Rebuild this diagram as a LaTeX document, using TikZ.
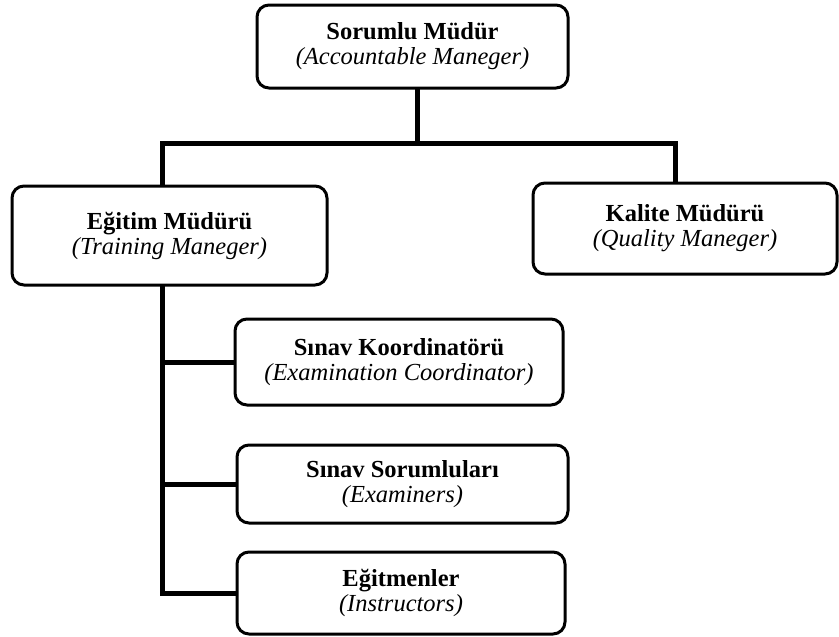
\documentclass[tikz,border=0pt]{standalone}
\usepackage{fontspec}
\setmainfont{Liberation Serif}
\begin{document}
\begin{tikzpicture}[x=1pt,y=-1pt,
  box/.style={draw=black, line width=3pt, rounded corners=12pt, fill=white,
    inner sep=0pt, align=center, font=\fontsize{24.5}{25}\selectfont},
  conn/.style={draw=black, line width=5pt, line join=miter, line cap=rect}]
\useasboundingbox (0,0) rectangle (839,637);

% organisation boxes
\node[box, minimum width=311pt, minimum height=83pt] (top) at (412.5,46.5)
  {\textbf{Sorumlu Müdür}\\\textit{(Accountable Maneger)}};
\node[box, minimum width=315pt, minimum height=99pt] (egitim) at (169.5,235.5)
  {\textbf{Eğitim Müdürü}\\\textit{(Training Maneger)}};
\node[box, minimum width=304pt, minimum height=91pt] (kalite) at (685,228.5)
  {\textbf{Kalite Müdürü}\\\textit{(Quality Maneger)}};
\node[box, minimum width=328pt, minimum height=86pt] (koord) at (399,362)
  {\textbf{Sınav Koordinatörü}\\\textit{(Examination Coordinator)}};
\node[box, minimum width=331pt, minimum height=78pt] (sorum) at (402.5,484)
  {\textbf{Sınav Sorumluları}\\\textit{(Examiners)}};
\node[box, minimum width=328pt, minimum height=82pt] (egitmen) at (401,593)
  {\textbf{Eğitmenler}\\\textit{(Instructors)}};

% bus under the top box
\coordinate (busL) at (162,143);
\coordinate (busM) at (417,143);
\coordinate (busR) at (675,143);

\begin{scope}[on background layer/.try]
\draw[conn] (busM |- top.south) -- (busM);
\draw[conn] (busL |- egitim.north) -- (busL) -- (busR) -- (busR |- kalite.north);
\draw[conn] (busL |- egitim.south) -- (busL |- egitmen.west) -- (egitmen.west);
\draw[conn] (busL |- koord.west) -- (koord.west);
\draw[conn] (busL |- sorum.west) -- (sorum.west);
\end{scope}
\end{tikzpicture}
\end{document}
